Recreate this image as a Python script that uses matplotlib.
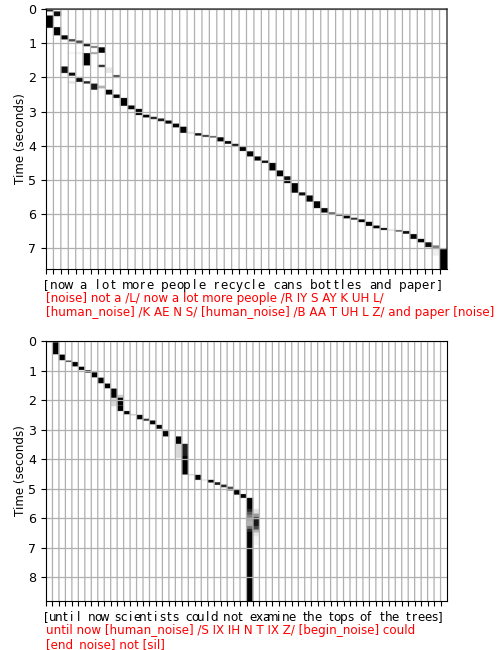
import numpy as np
import matplotlib
matplotlib.use("Agg")
import matplotlib.pyplot as plt

text_top = "[now a lot more people recycle cans bottles and paper]"
text_bottom = "[until now scientists could not examine the tops of the trees]"
caption_top = ("[noise] not a /L/ now a lot more people /R IY S AY K UH L/\n"
               "[human_noise] /K AE N S/ [human_noise] /B AA T UH L Z/ and paper [noise]")
caption_bottom = ("until now [human_noise] /S IX IH N T IX Z/ [begin_noise] could\n"
                  "[end_noise] not [sil]")
duration_top = 7.6
duration_bottom = 8.8
ticks_top = [0, 1, 2, 3, 4, 5, 6, 7]
ticks_bottom = [0, 1, 2, 3, 4, 5, 6, 7, 8]

# (character index, start s, end s, attention weight)
blocks_top = [
    (0, 0, .06, .95), (1, .08, .2, .95), (0, .2, .54, 1), (1, .54, .76, 1), (2, .78, .88, 1),
    (3, .89, .94, .7), (4, .93, 1.0, .7), (5, 1.02, 1.08, .9), (6, 1.09, 1.13, .5),
    (7, 1.13, 1.27, 1), (6, 1.27, 1.31, .35), (4, 1.27, 1.31, .06), (3, 1.27, 1.31, .04),
    (5, 1.3, 1.64, 1), (7, 1.64, 1.69, .8), (8, 1.72, 1.86, .1), (9, 1.94, 1.98, .7),
    (2, 1.69, 1.86, .95), (3, 1.87, 1.94, .95), (4, 2.0, 2.12, .95), (3, 2.12, 2.17, .1),
    (5, 2.12, 2.17, .85), (6, 2.19, 2.35, .9), (7, 2.25, 2.31, .3), (8, 2.37, 2.49, 1),
    (9, 2.51, 2.59, 1), (10, 2.61, 2.82, 1), (11, 2.83, 2.92, 1), (12, 2.93, 3.09, 1),
    (13, 3.1, 3.16, 1), (14, 3.16, 3.21, .85), (15, 3.21, 3.27, .9), (16, 3.27, 3.34, 1),
    (17, 3.36, 3.45, 1), (18, 3.45, 3.61, 1), (19, 3.6, 3.64, .12), (20, 3.64, 3.69, .95),
    (21, 3.69, 3.73, .75), (22, 3.72, 3.75, .6), (23, 3.76, 3.86, 1), (24, 3.87, 3.93, 1),
    (25, 3.95, 4.0, .9), (26, 4.02, 4.14, 1), (27, 4.17, 4.3, 1), (28, 4.32, 4.42, 1),
    (29, 4.44, 4.49, .95), (30, 4.51, 4.71, 1), (31, 4.73, 4.88, 1), (32, 4.9, 4.97, .95),
    (32, 4.97, 4.99, .55), (32, 4.99, 5.08, 1), (33, 5.1, 5.36, 1), (34, 5.37, 5.44, .95),
    (35, 5.46, 5.62, 1), (36, 5.63, 5.81, 1), (37, 5.83, 5.94, 1), (38, 5.95, 6.0, .6),
    (39, 6.0, 6.04, .7), (40, 6.05, 6.11, 1), (41, 6.11, 6.15, .8), (42, 6.16, 6.22, 1),
    (43, 6.23, 6.33, 1), (44, 6.34, 6.4, 1), (45, 6.41, 6.45, .95), (46, 6.45, 6.48, .12),
    (47, 6.47, 6.5, .6), (48, 6.5, 6.56, .95), (49, 6.59, 6.71, 1), (50, 6.73, 6.81, 1),
    (51, 6.83, 6.95, .95), (52, 6.92, 7.0, .5), (52, 7.0, 7.2, .06), (53, 7.03, 7.6, 1),
]
blocks_bottom = [
    (0, 0, .03, .9), (1, .05, .44, 1), (2, .47, .64, 1), (3, .67, .7, .7), (4, .72, .85, 1),
    (5, .88, .97, 1), (6, 1.0, 1.06, .95), (7, 1.07, 1.22, 1), (8, 1.25, 1.42, 1),
    (9, 1.45, 1.59, 1), (10, 1.62, 1.91, 1), (10, 1.92, 2.2, .15), (11, 1.83, 1.93, .2),
    (11, 1.93, 2.16, 1), (11, 2.16, 2.2, .6), (11, 2.2, 2.36, 1), (12, 2.38, 2.47, 1),
    (13, 2.48, 2.51, .2), (14, 2.51, 2.64, 1), (15, 2.64, 2.69, .8), (16, 2.7, 2.81, 1),
    (17, 2.85, 2.96, 1), (18, 3.02, 3.22, 1), (20, 3.24, 3.47, 1), (20, 3.47, 3.95, .15),
    (21, 3.49, 3.9, .88), (21, 3.9, 4.51, 1), (22, 4.51, 4.54, .15), (23, 4.54, 4.69, 1),
    (24, 4.69, 4.72, .1), (25, 4.71, 4.78, 1), (26, 4.79, 4.86, .9), (27, 4.87, 4.94, .85),
    (28, 4.94, 5.05, .7), (29, 5.05, 5.19, 1), (30, 5.19, 5.3, 1), (31, 5.32, 5.67, 1),
    (31, 5.67, 5.77, .85), (31, 5.77, 5.87, .65), (31, 5.87, 5.97, .5), (31, 5.97, 6.07, .35),
    (31, 6.07, 6.27, .3), (31, 6.27, 6.37, .55), (31, 6.37, 6.47, .85), (31, 6.47, 8.8, 1),
    (32, 5.7, 5.85, .12), (32, 5.85, 5.97, .4), (32, 5.97, 6.07, .8), (32, 6.07, 6.25, .9),
    (32, 6.25, 6.37, .7), (32, 6.37, 6.47, .3), (32, 6.47, 6.6, .1), (32, 6.6, 6.9, .04),
]

FS = 8.55


def attention_matrix(blocks, n_chars, duration, frame=0.01):
    mat = np.zeros((int(round(duration / frame)), n_chars))
    for col, start, end, weight in blocks:
        # Small widening so the thinnest cells keep their darkness after resampling.
        i0 = max(int(round(start / frame)) - 1, 0)
        i1 = int(round(end / frame)) + 1
        mat[i0:i1, col] = np.maximum(mat[i0:i1, col], weight)
    return mat


def draw(ax, text, blocks, duration, yticks, caption):
    n = len(text)
    mat = attention_matrix(blocks, n, duration)
    ax.imshow(np.repeat(mat, 3, axis=1), aspect="auto", cmap="gray_r", vmin=0, vmax=1,
              extent=(0, n, duration, 0), interpolation="antialiased")
    ax.set_xticks(np.arange(n))
    ax.set_xticklabels(list(text), fontsize=FS)
    ax.set_yticks(yticks)
    ax.tick_params(axis="y", labelsize=FS + 0.5)
    ax.set_xlim(0, n)
    ax.set_ylim(duration, 0)
    ax.grid(True, lw=0.9)
    for line in ax.get_xgridlines():
        line.set_snap(False)
    ax.set_ylabel("Time (seconds)", fontsize=FS, labelpad=1)
    ax.text(0, -0.0885, caption, transform=ax.transAxes, color="red",
            fontsize=FS, ha="left", va="top", linespacing=1.1)


W, H = 504, 650
fig = plt.figure(figsize=(W / 100, H / 100), dpi=100)
L, R = 46, 447
ax1 = fig.add_axes([L / W, 1 - 269 / H, (R - L) / W, 260 / H])
ax2 = fig.add_axes([L / W, 1 - 601 / H, (R - L) / W, 260 / H])
draw(ax1, text_top, blocks_top, duration_top, ticks_top, caption_top)
draw(ax2, text_bottom, blocks_bottom, duration_bottom, ticks_bottom, caption_bottom)
for side in ("top", "right"):
    ax1.spines[side].set_snap(False)
fig.savefig("out.png", dpi=100)
